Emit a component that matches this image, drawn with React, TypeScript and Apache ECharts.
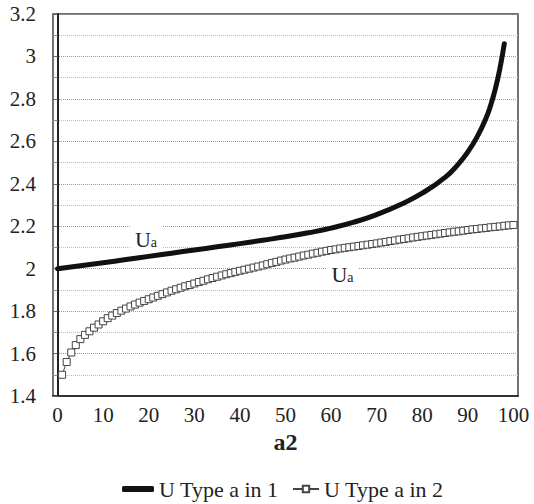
import React, { useEffect, useRef } from "react";
import * as echarts from "echarts";

const xTickLabels = [0, 10, 20, 30, 40, 50, 60, 70, 80, 90, 100];

// U Type a in 1 (thick black curve)
const s1X = [0, 5, 10, 15, 20, 25, 30, 35, 40, 45, 50, 55, 60, 65, 70, 75, 80, 85, 88, 90, 92, 94, 95, 96, 97, 98];
const s1Y = [2.0, 2.014, 2.028, 2.043, 2.058, 2.073, 2.088, 2.103, 2.118, 2.134, 2.15, 2.169, 2.191, 2.219, 2.255, 2.3, 2.356, 2.43, 2.495, 2.55, 2.62, 2.71, 2.77, 2.845, 2.94, 3.06];

// U Type a in 2 (square markers), a2 = 1..100
const s2Y = [
  1.5, 1.56, 1.605, 1.64, 1.668, 1.688, 1.705, 1.722, 1.737, 1.752,
  1.767, 1.779, 1.791, 1.802, 1.812, 1.822, 1.831, 1.84, 1.848, 1.856,
  1.864, 1.872, 1.88, 1.888, 1.896, 1.903, 1.91, 1.917, 1.923, 1.93,
  1.937, 1.943, 1.95, 1.956, 1.962, 1.968, 1.974, 1.979, 1.985, 1.99,
  1.995, 2.0, 2.005, 2.01, 2.015, 2.021, 2.027, 2.032, 2.038, 2.043,
  2.048, 2.052, 2.057, 2.062, 2.066, 2.071, 2.075, 2.08, 2.084, 2.088,
  2.091, 2.095, 2.098, 2.101, 2.104, 2.107, 2.11, 2.113, 2.116, 2.119,
  2.123, 2.126, 2.13, 2.133, 2.137, 2.14, 2.143, 2.147, 2.15, 2.153,
  2.156, 2.159, 2.162, 2.165, 2.168, 2.171, 2.174, 2.176, 2.179, 2.182,
  2.185, 2.187, 2.19, 2.192, 2.195, 2.197, 2.199, 2.202, 2.204, 2.206,
];
const s2X = s2Y.map((_, i) => i + 1);

const label1Coord = [19.4, 2.14];
const label2Coord = [62.5, 1.975];

const FONT = "Liberation Serif";

export default function App() {
  const ref = useRef<HTMLDivElement>(null);
  useEffect(() => {
    if (!ref.current) return;
    const chart = echarts.init(ref.current, null, { renderer: "svg" });
    const uaLabel = {
      show: true,
      position: "inside",
      formatter: "{u|U}{a|a}",
      backgroundColor: "#fff",
      padding: [3, 5, 1, 5],
      rich: {
        u: { fontFamily: FONT, fontSize: 22, color: "#222" },
        a: { fontFamily: FONT, fontSize: 14, color: "#222", verticalAlign: "bottom", padding: [0, 0, 1, 0] },
      },
    };
    chart.setOption({
      animation: false,
      backgroundColor: "#fff",
      textStyle: { fontFamily: FONT },
      grid: { left: 53, right: 16, top: 14, bottom: 108, show: true, borderColor: "#444", borderWidth: 1.5 },
      xAxis: {
        type: "value",
        min: -1,
        max: 101,
        name: "a2",
        nameLocation: "middle",
        nameGap: 34,
        nameTextStyle: { fontFamily: FONT, fontSize: 24, fontWeight: "bold", color: "#222" },
        axisLine: { show: true, onZero: false, lineStyle: { color: "#333", width: 2 } },
        axisTick: { show: false },
        splitLine: { show: false },
        axisLabel: { customValues: xTickLabels, fontFamily: FONT, fontSize: 21, color: "#222", margin: 8 },
      },
      yAxis: {
        type: "value",
        min: 1.4,
        max: 3.2,
        interval: 0.2,
        axisLine: { show: true, lineStyle: { color: "#222", width: 2 } },
        axisTick: { show: true, length: 5, lineStyle: { color: "#666" } },
        minorTick: { show: true, splitNumber: 2, length: 4, lineStyle: { color: "#888" } },
        splitLine: { show: true, lineStyle: { color: "#999", type: "dotted", width: 1 } },
        minorSplitLine: { show: true, lineStyle: { color: "#bbb", type: "dotted", width: 1 } },
        axisLabel: { fontFamily: FONT, fontSize: 21, color: "#222", margin: 17 },
      },
      legend: [
        {
          data: ["U Type a in 1"],
          left: 122,
          top: 478,
          padding: 0,
          itemWidth: 32,
          itemHeight: 6,
          icon: "roundRect",
          textStyle: { fontFamily: FONT, fontSize: 22, color: "#222" },
        },
        {
          data: ["U Type a in 2"],
          left: 292,
          top: 478,
          padding: 0,
          itemWidth: 26,
          itemHeight: 8,
          textStyle: { fontFamily: FONT, fontSize: 22, color: "#222" },
        },
      ],
      series: [
        {
          name: "U Type a in 1",
          type: "line",
          data: s1X.map((x, i) => [x, s1Y[i]]),
          smooth: 0.5,
          symbol: "none",
          lineStyle: { color: "#111", width: 5, cap: "round", join: "round" },
          itemStyle: { color: "#111" },
          markPoint: {
            symbol: "rect",
            symbolSize: 1,
            itemStyle: { color: "rgba(0,0,0,0)" },
            label: uaLabel,
            data: [{ coord: label1Coord }],
          },
        },
        {
          name: "U Type a in 2",
          type: "line",
          data: s2X.map((x, i) => [x, s2Y[i]]),
          symbol: "rect",
          symbolSize: 7,
          showSymbol: true,
          lineStyle: { color: "#444", width: 1 },
          itemStyle: { color: "#fff", borderColor: "#444", borderWidth: 1 },
          markPoint: {
            symbol: "rect",
            symbolSize: 1,
            itemStyle: { color: "rgba(0,0,0,0)", borderWidth: 0 },
            label: uaLabel,
            data: [{ coord: label2Coord }],
          },
        },
      ],
    });
    return () => chart.dispose();
  }, []);
  return <div ref={ref} style={{ position: "absolute", left: 0, top: 0, width: 534, height: 504 }} />;
}
